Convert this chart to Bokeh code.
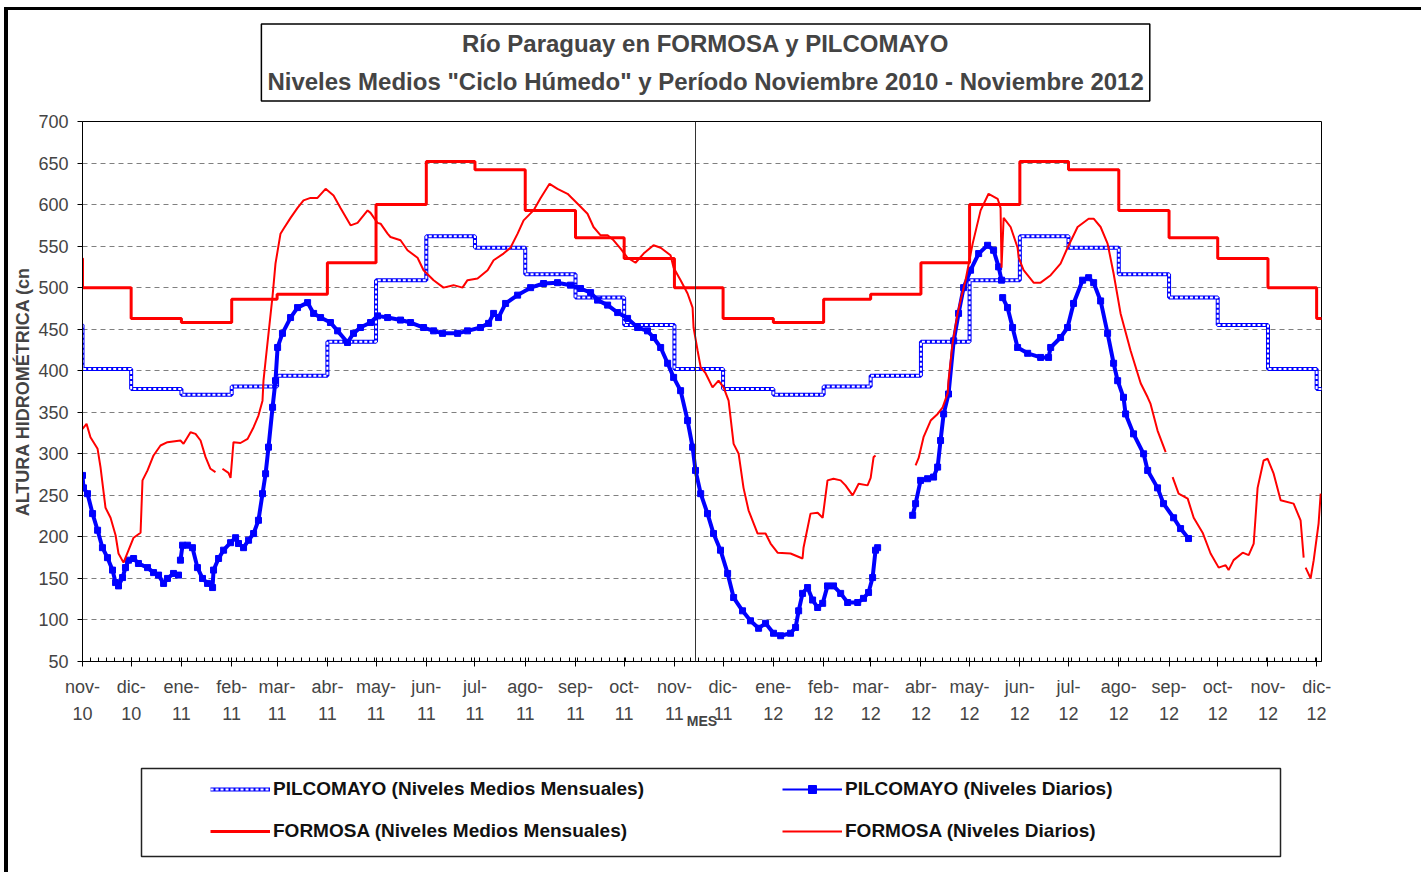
import pandas as pd
from bokeh.plotting import figure
from bokeh.layouts import column
from bokeh.models import (FixedTicker, Legend, LegendItem, Label,
                          Span, Range1d, ColumnDataSource)
from bokeh.embed import file_html
from bokeh.resources import INLINE

FONT = "Liberation Sans"
BASE = pd.Timestamp("2010-11-01")

meses = ["ene", "feb", "mar", "abr", "may", "jun", "jul", "ago", "sep", "oct", "nov", "dic"]

# ---- monthly mean levels ("Ciclo Húmedo"), one value per month from oct-2010 to dic-2012
inicio_mensual = "2010-10-01"
fin_mensual = "2013-01-01"
pil_mensual = [455, 402, 378, 371, 381, 394, 435, 509, 562, 548, 516, 488,
               455, 402, 378, 371, 381, 394, 435, 509, 562, 548, 516, 488,
               455, 402, 378]
for_mensual = [535, 500, 463, 458, 486, 492, 530, 600, 652, 642, 593, 560,
               535, 500, 463, 458, 486, 492, 530, 600, 652, 642, 593, 560,
               535, 500, 463]

# ---- daily levels: days since 2010-11-01 and level (cm); None marks a gap
for_dia = [0, 2.5, 4.9, 9.3, 11.1, 14.2, 17.3, 20.4, 22.2, 25.3, 28.4, 31.5, 35.8, 37.0,
           40.1, 43.8, 48.1, 52.4, 60.4, 62.3, 66.6, 69.7, 72.8, 75.9, 78.9, 82.0, None,
           86.3, 90.0, 91.3, 93.1, 97.4, 101.8, 105.5, 108.5, 111.0, 111.6, 112.9, 117.2,
           119.0, 122.1, 124.0, 128.3, 132.6, 136.3, 140.6, 144.9, 149.9, 154.8, 159.1,
           165.3, 169.6, 175.8, 177.6, 181.9, 183.8, 188.1, 189.9, 196.1, 200.4, 206.6,
           210.3, 216.5, 222.6, 228.8, 234.3, 237.4, 243.6, 249.8, 253.5, 259.6, 263.9,
           268.3, 272.0, 278.1, 282.5, 288.0, 292.9, 299.1, 305.3, 311.4, 315.1, 319.5,
           323.8, 327.5, 331.8, 336.1, 341.0, 346.0, 352.1, 356.5, 362.6, 364.5, 368.8,
           373.1, 376.2, 376.8, 379.3, 381.2, 384.2, 388.5, 392.2, 395.3, 398.4, 401.5,
           404.6, 407.6, 410.7, 416.3, 421.2, 424.3, 428.6, 436.6, 444.0, 444.6, 448.9,
           453.3, 456.4, 459.4, 463.1, 467.5, 470.5, 474.9, 478.6, 484.1, 486.0, 487.8,
           489.0, None,
           513.7, 515.6, 518.6, 523.0, 527.3, 530.4, 533.5, 534.0, 536.5, 539.6, 541.5,
           544.5, 548.9, 553.8, 558.7, 564.3, 566.1, 566.7, 568.0, 572.3, 576.6, 577.3,
           580.3, 586.5, 590.8, 597.0, 603.1, 607.4, 613.6, 620.4, 623.5, 627.8, 632.1,
           635.8, 640.1, 646.3, 652.5, 656.8, 658.6, 662.9, 667.9, None,
           672.2, 675.9, 681.5, 685.2, 690.7, 695.6, 700.6, 704.9, 706.7, 709.8, 715.4,
           719.1, 722.2, 724.6, 728.3, 730.8, 734.5, 738.8, 746.8, 751.1, 753.0, None,
           754.2, 757.3, 759.2, 762.2, 763.5]
for_nivel = [330, 336, 320, 306, 284, 235, 223, 202, 180, 169, 184, 199, 205, 268,
             280, 298, 310, 314, 316, 312, 326, 324, 316, 296, 282, 278, None,
             282, 277, 271, 314, 313, 318, 332, 346, 364, 388, 412, 490,
             529, 565, 571, 584, 596, 605, 608, 608, 619, 611, 596,
             575, 578, 593, 590, 578, 577, 565, 561, 557, 545, 536,
             521, 509, 500, 503, 500, 509, 511, 521, 533, 541, 548,
             565, 581, 593, 608, 625, 619, 613, 601, 589, 573, 563,
             563, 557, 547, 536, 530, 541, 551, 548, 539, 524, 509,
             493, 476, 452, 424, 404, 397, 380, 388, 380, 364, 312,
             300, 259, 232, 204, 204, 192, 181, 180, 174, 187, 228,
             229, 223, 268, 270, 268, 262, 250, 264, 262, 271, 296,
             298, None,
             286, 295, 320, 340, 348, 356, 373, 388, 433, 469, 485,
             509, 553, 593, 613, 607, 596, 524, 584, 573, 548, 536,
             521, 506, 506, 515, 529, 548, 573, 583, 583, 573, 553,
             517, 469, 424, 385, 368, 360, 328, 302, None,
             272, 252, 246, 223, 205, 180, 163, 166, 160, 172, 181,
             178, 192, 259, 292, 294, 276, 244, 240, 220, 175, None,
             163, 150, 172, 216, 252]

pil_dia = [0, 0.6, 3.1, 6.2, 9.3, 12.3, 15.4, 18.5, 20.4, 22.2, 24.7, 26.5, 28.4, 31.5,
           34.5, 40.1, 43.8, 46.9, 50.0, 52.4, 56.1, 59.2, None,
           60.4, 61.7, 64.8, 67.8, 70.9, 74.0, 77.1, 80.2, 80.8, 83.9, 87.0, 91.3, 94.4,
           96.2, 99.3, 102.4, 105.5, 108.5, 111.0, 112.9, 114.7, 117.2, 119.0, 120.3,
           123.3, 128.3, 132.6, 138.8, 142.5, 146.8, 152.9, 157.3, 163.4, 167.1, 171.4,
           177.6, 181.9, 188.1, 196.1, 202.3, 210.3, 216.5, 222.0, 231.3, 237.4, 245.4,
           250.4, 253.5, 256.5, 260.9, 268.3, 276.3, 284.3, 292.9, 300.9, 307.1, 313.3,
           317.6, 323.8, 330.0, 336.1, 342.3, 348.4, 352.1, 356.5, 360.8, 364.5, 368.8,
           373.1, 376.2, 378.0, 381.2, 385.4, 389.1, 393.4, 397.8, 401.5, 407.0, 411.9,
           416.9, 421.2, 426.1, 430.5, 436.6, 439.7, 441.6, 444.0, 447.1, 450.2, 453.3,
           456.4, 459.4, 463.1, 467.5, 471.8, 478.0, 481.6, 484.7, 487.2, 489.0, 490.3,
           None,
           511.9, 513.7, 516.8, 521.1, 524.8, 527.3, 529.1, 531.0, 534.0, 537.2, 540.2,
           543.3, 547.6, 552.6, 558.1, 561.8, 564.9, 566.7, None,
           567.4, 570.4, 573.5, 576.6, 582.8, 590.8, 595.7, 597.0, 603.1, 607.4, 611.1,
           616.7, 620.4, 623.5, 627.8, 632.1, 635.8, 638.3, 641.9, 643.2, 648.1, 654.3,
           656.8, 662.9, 666.6, 672.8, 677.1, 682.0]
pil_nivel = [274, 259, 252, 228, 208, 187, 175, 160, 145, 141, 151, 163, 172, 174,
             168, 163, 157, 154, 144, 150, 156, 154, None,
             172, 190, 190, 187, 163, 150, 144, 139, 160, 174, 184, 193, 199,
             192, 187, 196, 204, 220, 252, 276, 308, 356, 388, 428,
             445, 464, 476, 482, 469, 464, 458, 448, 434, 445, 452,
             458, 466, 464, 461, 458, 452, 448, 445, 445, 448, 452,
             457, 469, 464, 481, 491, 500, 505, 506, 503, 499, 494,
             485, 479, 470, 463, 452, 448, 440, 428, 409, 392, 376,
             340, 308, 280, 252, 228, 204, 184, 156, 127, 111, 99,
             90, 96, 84, 81, 84, 91, 111, 132, 139, 124, 115,
             120, 141, 141, 132, 121, 121, 126, 133, 151, 184, 187,
             None,
             226, 240, 268, 270, 272, 284, 316, 348, 372, 436, 469,
             500, 521, 541, 551, 545, 525, 509, None,
             488, 476, 452, 428, 421, 416, 416, 428, 440, 452, 481,
             509, 512, 506, 484, 445, 409, 388, 368, 348, 324, 300,
             280, 259, 240, 223, 210, 198]

separador_dia = 378  # vertical separator line (mid nov-2011)

# ---------------------------------------------------------------- helpers
def nan(v):
    return [float("nan") if x is None else x for x in v]

def mx(px):   # page pixel -> x data (only for placing the title box)
    return (px - 82) / 1.6215

def my(py):   # page pixel -> y data
    return (661 - py) / 0.8308 + 50

edges = pd.date_range(inicio_mensual, fin_mensual, freq="MS")
edge_days = [int((d - BASE).days) for d in edges]
src_pm = ColumnDataSource(dict(x=edge_days, y=pil_mensual + [pil_mensual[-1]]))
src_fm = ColumnDataSource(dict(x=edge_days, y=for_mensual + [for_mensual[-1]]))
src_pd = ColumnDataSource(dict(x=nan(pil_dia), y=nan(pil_nivel)))
src_fd = ColumnDataSource(dict(x=nan(for_dia), y=nan(for_nivel)))

month_starts = pd.date_range("2010-11-01", "2012-12-01", freq="MS")
tick_days = [int((d - BASE).days) for d in month_starts]
tick_labels = {td: f"{meses[d.month - 1]}-\n{d.year % 100:02d}" for td, d in zip(tick_days, month_starts)}
minor = list(range(0, 765, 5))

OFF_X, OFF_Y = 8, 10      # page offset of the whole chart (outer frame lines)
MAIN_BOTTOM = 80          # bottom border of the main chart (axis area)

p = figure(frame_width=1239, frame_height=540, x_range=Range1d(0, 764), y_range=Range1d(50, 700),
           output_backend="svg", toolbar_location=None,
           min_border_left=82 - OFF_X, min_border_right=100, min_border_top=121 - OFF_Y,
           min_border_bottom=MAIN_BOTTOM,
           background_fill_color="white", border_fill_color="white")
p.outline_line_color = "black"
p.outline_line_width = 1
p.xgrid.visible = False
p.ygrid.ticker = FixedTicker(ticks=list(range(100, 700, 50)))
p.ygrid.grid_line_color = "#808080"
p.ygrid.grid_line_dash = "5 4"
p.ygrid.grid_line_width = 1

p.xaxis.ticker = FixedTicker(ticks=tick_days, minor_ticks=minor)
p.xaxis.major_label_overrides = tick_labels
p.xaxis.major_label_text_font = FONT
p.xaxis.major_label_text_font_size = "18px"
p.xaxis.major_label_text_line_height = 1.35
p.xaxis.major_label_standoff = 10
p.xaxis.major_tick_in = 4
p.xaxis.major_tick_out = 5
p.xaxis.minor_tick_in = 4
p.xaxis.minor_tick_out = 0
p.xaxis.axis_line_color = "black"
p.xaxis.axis_label = "MES"
p.xaxis.axis_label_text_font = FONT
p.xaxis.axis_label_text_font_size = "14px"
p.xaxis.axis_label_text_font_style = "bold"
p.xaxis.axis_label_standoff = -14

p.yaxis.ticker = FixedTicker(ticks=list(range(50, 701, 50)))
p.yaxis.major_label_text_font = FONT
p.yaxis.major_label_text_font_size = "18px"
p.yaxis.major_label_standoff = 9
p.yaxis.major_tick_in = 0
p.yaxis.major_tick_out = 5
p.yaxis.minor_tick_line_color = None
p.yaxis.axis_label = "ALTURA HIDROMÉTRICA (cn"
p.yaxis.axis_label_text_font = FONT
p.yaxis.axis_label_text_font_size = "18px"
p.yaxis.axis_label_text_font_style = "bold"
p.yaxis.axis_label_standoff = 2
p.yaxis.axis_line_color = "black"

# series
p.step("x", "y", source=src_pm, mode="after", line_color="#0000FF", line_width=4)
p.step("x", "y", source=src_pm, mode="after", line_color="white", line_width=2, line_dash="3 2")
p.step("x", "y", source=src_fm, mode="after", line_color="#FF0000", line_width=3)
p.line("x", "y", source=src_pd, line_color="#0000FF", line_width=4)
p.scatter("x", "y", source=src_pd, marker="square", size=6, fill_color="#0000FF", line_color="#0000FF")
p.line("x", "y", source=src_fd, line_color="#FF0000", line_width=2)

p.add_layout(Span(location=separador_dia, dimension="height", line_color="#333333", line_width=1))

# title box (side-panel annotation so it is not clipped to the plot area)
p.add_layout(Label(x=mx(705), y=my(62),
                   text="Río Paraguay en FORMOSA y PILCOMAYO\nNiveles Medios \"Ciclo Húmedo\" y Período Noviembre 2010 - Noviembre 2012",
                   text_align="center", text_baseline="middle", text_font=FONT,
                   text_font_size="24px", text_font_style="bold", text_line_height=1.4,
                   border_line_color="black", border_line_width=1.5,
                   background_fill_color="white", padding=6), "above")

# ---------------------------------------------------------------- legend panel (own canvas)
T = 661 + MAIN_BOTTOM             # page y where the legend canvas starts
LH = 872 - T                      # legend canvas height
Y0 = -10000                       # data band of the legend canvas, far from any level value
lg = figure(width=1421 - OFF_X, height=LH, x_range=Range1d(82, 1321), y_range=Range1d(Y0, Y0 + LH),
            output_backend="svg", toolbar_location=None, x_axis_type=None, y_axis_type=None,
            min_border_left=0, min_border_right=0, min_border_top=0, min_border_bottom=0,
            background_fill_color="white", border_fill_color="white")
lg.outline_line_color = None
lg.grid.visible = False

def ly(py):  # page y -> legend canvas data y
    return Y0 + (T + LH - py)

# legend frame box
lg.quad(left=[141], right=[1280], top=[ly(768)], bottom=[ly(856)],
        fill_alpha=0, line_color="#222222", line_width=1.5)

# same series re-drawn in this canvas (they fall outside its visible band) to give legend swatches
e_pm_outer = lg.step("x", "y", source=src_pm, mode="after", line_color="#0000FF", line_width=4)
e_pm_inner = lg.step("x", "y", source=src_pm, mode="after", line_color="white", line_width=2, line_dash="3 2")
e_fm = lg.step("x", "y", source=src_fm, mode="after", line_color="#FF0000", line_width=3)
e_pd_line = lg.line("x", "y", source=src_pd, line_color="#0000FF", line_width=2)
e_pd_mark = lg.scatter("x", "y", source=src_pd, marker="square", size=5,
                       fill_color="#0000FF", line_color="#0000FF")
e_fd = lg.line("x", "y", source=src_fd, line_color="#FF0000", line_width=2)

def make_legend(items, x):
    return Legend(items=items, location=(x - 82, (T + LH) - 842), orientation="vertical",
                  glyph_width=60, glyph_height=20, label_height=22, label_standoff=3,
                  spacing=20, padding=0, margin=0,
                  border_line_alpha=0, background_fill_alpha=0,
                  label_text_font=FONT, label_text_font_size="19px",
                  label_text_font_style="bold", label_text_color="#111111")

lg.add_layout(make_legend([
    LegendItem(label="PILCOMAYO (Niveles Medios Mensuales)", renderers=[e_pm_outer, e_pm_inner]),
    LegendItem(label="FORMOSA (Niveles Medios Mensuales)", renderers=[e_fm]),
], 210))
lg.add_layout(make_legend([
    LegendItem(label="PILCOMAYO (Niveles Diarios)", renderers=[e_pd_line, e_pd_mark]),
    LegendItem(label="FORMOSA (Niveles Diarios)", renderers=[e_fd]),
], 782))

layout = column(p, lg, spacing=0,
                styles={"border-left": "4px solid black", "border-top": "3px solid black",
                        "margin-left": "4px", "margin-top": "7px"})
open("out.html", "w").write(file_html(layout, INLINE))
